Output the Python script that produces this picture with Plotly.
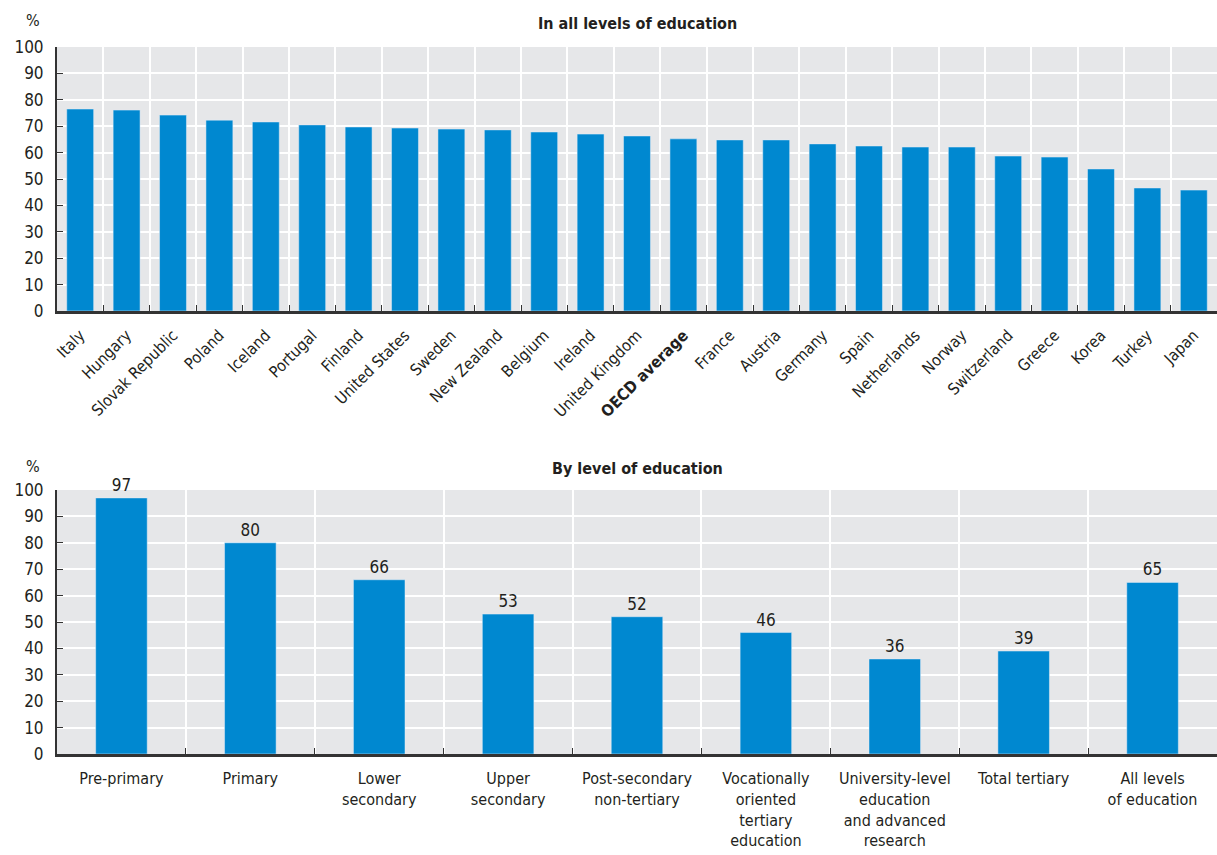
import plotly.graph_objects as go

# ---- Data ----
countries = ["Italy", "Hungary", "Slovak Republic", "Poland", "Iceland", "Portugal",
             "Finland", "United States", "Sweden", "New Zealand", "Belgium", "Ireland",
             "United Kingdom", "OECD average", "France", "Austria", "Germany", "Spain",
             "Netherlands", "Norway", "Switzerland", "Greece", "Korea", "Turkey", "Japan"]
share_all_levels = [76.5, 76.1, 74.2, 72.3, 71.6, 70.5, 69.7, 69.3, 68.9, 68.6, 67.8, 67.0,
                    66.3, 65.2, 64.8, 64.8, 63.3, 62.5, 62.1, 62.1, 58.7, 58.3, 53.8, 46.6, 45.8]

levels = ["Pre-primary", "Primary", "Lower<br>secondary", "Upper<br>secondary",
          "Post-secondary<br>non-tertiary", "Vocationally<br>oriented<br>tertiary<br>education",
          "University-level<br>education<br>and advanced<br>research", "Total tertiary",
          "All levels<br>of education"]
share_by_level = [97, 80, 66, 53, 52, 46, 36, 39, 65]

y_ticks = [0, 10, 20, 30, 40, 50, 60, 70, 80, 90, 100]

# ---- Style ----
FONT = "Liberation Sans Narrow, Arial Narrow, DejaVu Sans Condensed, Roboto, sans-serif"
TXT = "#231f20"
BAR = "#0088d0"
BG = "#e6e7e9"
W, H = 1217, 855

country_labels = ["<b>%s</b>" % c if c == "OECD average" else c for c in countries]

fig = go.Figure()
fig.add_trace(go.Bar(x=country_labels, y=share_all_levels, marker_color=BAR,
                     width=0.58, xaxis="x", yaxis="y", showlegend=False))
fig.add_trace(go.Bar(x=levels, y=share_by_level, marker_color=BAR, width=0.40,
                     text=[str(v) for v in share_by_level], textposition="outside",
                     textfont=dict(size=17, color=TXT, family=FONT), cliponaxis=False,
                     xaxis="x2", yaxis="y2", showlegend=False))

def yax(domain):
    return dict(domain=domain, range=[0, 100], tickvals=y_ticks, showgrid=True,
                gridcolor="white", gridwidth=2, ticks="inside", ticklen=6, tickcolor="#333",
                showline=True, linecolor="#333", linewidth=2, zeroline=False,
                tickfont=dict(size=17, color=TXT, family=FONT), ticklabelstandoff=8,
                fixedrange=True, automargin=False)

def xax(anchor, angle, standoff):
    return dict(domain=[0, 1], anchor=anchor, type="category", tickson="boundaries",
                showgrid=True, gridcolor="white", gridwidth=2, ticks="inside", ticklen=6,
                tickcolor="#333", showline=True, linecolor="#333", linewidth=2.5,
                tickangle=angle, tickfont=dict(size=16, color=TXT, family=FONT),
                ticklabelstandoff=standoff, automargin=False)

fig.update_layout(
    width=W, height=H,
    margin=dict(l=57, r=0, t=0, b=0),
    paper_bgcolor="white", plot_bgcolor=BG,
    font=dict(family=FONT, color=TXT),
    bargap=0.4,
    xaxis=xax("y", -45, 6),
    yaxis=yax([1 - 311 / H, 1 - 47 / H]),
    xaxis2=xax("y2", 0, 8),
    yaxis2=yax([1 - 754 / H, 1 - 490 / H]),
    annotations=[
        dict(text="<b>In all levels of education</b>", x=0.5, xref="paper",
             y=1 - 24 / H, yref="paper", showarrow=False, xanchor="center", yanchor="middle",
             font=dict(size=16, color=TXT, family=FONT)),
        dict(text="<b>By level of education</b>", x=0.5, xref="paper",
             y=1 - 468 / H, yref="paper", showarrow=False, xanchor="center", yanchor="middle",
             font=dict(size=16, color=TXT, family=FONT)),
        dict(text="%", x=(33 - 57) / (W - 57), xref="paper", y=1 - 21 / H, yref="paper",
             showarrow=False, xanchor="center", yanchor="middle",
             font=dict(size=16, color=TXT, family=FONT)),
        dict(text="%", x=(33 - 57) / (W - 57), xref="paper", y=1 - 467 / H, yref="paper",
             showarrow=False, xanchor="center", yanchor="middle",
             font=dict(size=16, color=TXT, family=FONT)),
    ],
)

fig.write_html("out.html", config={"displayModeBar": False},
               post_script="document.body.style.margin='0';document.body.style.overflow='hidden';")
